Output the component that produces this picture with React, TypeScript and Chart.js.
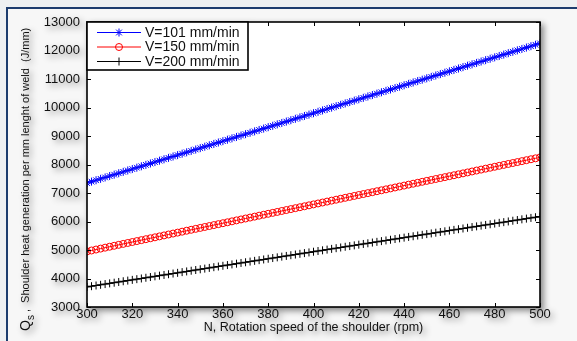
import React, { useEffect, useRef } from "react";
import { Chart, registerables } from "chart.js";

Chart.register(...registerables);

const rpm = [
  300, 302, 304, 306, 308, 310, 312, 314, 316, 318,
  320, 322, 324, 326, 328, 330, 332, 334, 336, 338,
  340, 342, 344, 346, 348, 350, 352, 354, 356, 358,
  360, 362, 364, 366, 368, 370, 372, 374, 376, 378,
  380, 382, 384, 386, 388, 390, 392, 394, 396, 398,
  400, 402, 404, 406, 408, 410, 412, 414, 416, 418,
  420, 422, 424, 426, 428, 430, 432, 434, 436, 438,
  440, 442, 444, 446, 448, 450, 452, 454, 456, 458,
  460, 462, 464, 466, 468, 470, 472, 474, 476, 478,
  480, 482, 484, 486, 488, 490, 492, 494, 496, 498,
  500,
];

const qV101 = [
  7350, 7399, 7448, 7497, 7546, 7595, 7644, 7693, 7742, 7791,
  7840, 7889, 7938, 7987, 8036, 8085, 8134, 8183, 8232, 8281,
  8330, 8379, 8428, 8477, 8526, 8575, 8624, 8673, 8722, 8771,
  8820, 8869, 8918, 8967, 9016, 9065, 9114, 9163, 9212, 9261,
  9310, 9359, 9408, 9457, 9506, 9555, 9604, 9653, 9702, 9751,
  9800, 9849, 9898, 9947, 9996, 10045, 10094, 10143, 10192, 10241,
  10290, 10339, 10388, 10437, 10486, 10535, 10584, 10633, 10682, 10731,
  10780, 10829, 10878, 10927, 10976, 11025, 11074, 11123, 11172, 11221,
  11270, 11319, 11368, 11417, 11466, 11515, 11564, 11613, 11662, 11711,
  11760, 11809, 11858, 11907, 11956, 12005, 12054, 12103, 12152, 12201,
  12250,
];

const qV150 = [
  4950, 4983, 5016, 5049, 5082, 5115, 5148, 5181, 5214, 5247,
  5280, 5313, 5346, 5379, 5412, 5445, 5478, 5511, 5544, 5577,
  5610, 5643, 5676, 5709, 5742, 5775, 5808, 5841, 5874, 5907,
  5940, 5973, 6006, 6039, 6072, 6105, 6138, 6171, 6204, 6237,
  6270, 6303, 6336, 6369, 6402, 6435, 6468, 6501, 6534, 6567,
  6600, 6633, 6666, 6699, 6732, 6765, 6798, 6831, 6864, 6897,
  6930, 6963, 6996, 7029, 7062, 7095, 7128, 7161, 7194, 7227,
  7260, 7293, 7326, 7359, 7392, 7425, 7458, 7491, 7524, 7557,
  7590, 7623, 7656, 7689, 7722, 7755, 7788, 7821, 7854, 7887,
  7920, 7953, 7986, 8019, 8052, 8085, 8118, 8151, 8184, 8217,
  8250,
];

const qV200 = [
  3705, 3730, 3754, 3779, 3804, 3829, 3853, 3878, 3903, 3927,
  3952, 3977, 4001, 4026, 4051, 4076, 4100, 4125, 4150, 4174,
  4199, 4224, 4248, 4273, 4298, 4323, 4347, 4372, 4397, 4421,
  4446, 4471, 4495, 4520, 4545, 4570, 4594, 4619, 4644, 4668,
  4693, 4718, 4742, 4767, 4792, 4817, 4841, 4866, 4891, 4915,
  4940, 4965, 4989, 5014, 5039, 5064, 5088, 5113, 5138, 5162,
  5187, 5212, 5236, 5261, 5286, 5311, 5335, 5360, 5385, 5409,
  5434, 5459, 5483, 5508, 5533, 5558, 5582, 5607, 5632, 5656,
  5681, 5706, 5730, 5755, 5780, 5805, 5829, 5854, 5879, 5903,
  5928, 5953, 5977, 6002, 6027, 6052, 6076, 6101, 6126, 6150,
  6175,
];

const seriesLabels = ["V=101 mm/min", "V=150 mm/min", "V=200 mm/min"];
const xTitle = "N, Rotation speed of the shoulder (rpm)";
const yTitle = "Shoulder heat generation per mm lenght of weld  (J/mm)";

const FONT = "'Liberation Sans', Arial, Helvetica, sans-serif";

function drawMarker(ctx: CanvasRenderingContext2D, style: string, x: number, y: number, r: number, color: string) {
  ctx.save();
  ctx.strokeStyle = color;
  ctx.lineWidth = 1;
  ctx.beginPath();
  if (style === "circle") {
    ctx.arc(x, y, r, 0, Math.PI * 2);
  } else if (style === "cross") {
    ctx.moveTo(x - r, y); ctx.lineTo(x + r, y);
    ctx.moveTo(x, y - r); ctx.lineTo(x, y + r);
  } else {
    ctx.moveTo(x - r, y); ctx.lineTo(x + r, y);
    ctx.moveTo(x, y - r); ctx.lineTo(x, y + r);
    const d = r * 0.72;
    ctx.moveTo(x - d, y - d); ctx.lineTo(x + d, y + d);
    ctx.moveTo(x - d, y + d); ctx.lineTo(x + d, y - d);
  }
  ctx.stroke();
  ctx.restore();
}

const framePlugin = {
  id: "matlabFrame",
  beforeDatasetsDraw(chart: any) {
    const { ctx, chartArea: a } = chart;
    ctx.save();
    ctx.fillStyle = "#ffffff";
    ctx.fillRect(a.left, a.top, a.right - a.left, a.bottom - a.top);
    ctx.restore();
  },
  afterDatasetsDraw(chart: any) {
    const { ctx, chartArea: a } = chart;
    const xs = chart.scales.x;
    const ys = chart.scales.y;
    ctx.save();
    // inward ticks
    ctx.strokeStyle = "#000";
    ctx.lineWidth = 1;
    ctx.beginPath();
    xs.ticks.forEach((t: any) => {
      const px = Math.round(xs.getPixelForValue(t.value)) + 0.5;
      ctx.moveTo(px, a.bottom); ctx.lineTo(px, a.bottom - 4);
      ctx.moveTo(px, a.top); ctx.lineTo(px, a.top + 4);
    });
    ys.ticks.forEach((t: any) => {
      const py = Math.round(ys.getPixelForValue(t.value)) + 0.5;
      ctx.moveTo(a.left, py); ctx.lineTo(a.left + 4, py);
      ctx.moveTo(a.right, py); ctx.lineTo(a.right - 4, py);
    });
    ctx.stroke();
    // box
    ctx.lineWidth = 1.6;
    ctx.strokeRect(a.left, a.top, a.right - a.left, a.bottom - a.top);

    // legend
    const lx = a.left, ly = a.top, lw = 161, lh = 48;
    ctx.fillStyle = "#fff";
    ctx.fillRect(lx, ly, lw, lh);
    ctx.lineWidth = 1.6;
    ctx.strokeStyle = "#000";
    ctx.strokeRect(lx, ly, lw, lh);
    const dsets = chart.data.datasets;
    ctx.font = `14px ${FONT}`;
    ctx.textBaseline = "middle";
    ctx.textAlign = "left";
    dsets.forEach((d: any, i: number) => {
      const ry = ly + 10.5 + i * 14.5;
      ctx.strokeStyle = d.borderColor;
      ctx.lineWidth = 1;
      ctx.beginPath();
      ctx.moveTo(lx + 10, ry); ctx.lineTo(lx + 54, ry);
      ctx.stroke();
      drawMarker(ctx, d.pointStyle, lx + 32, ry, d.pointRadius, d.borderColor);
      ctx.fillStyle = "#111";
      ctx.fillText(d.label, lx + 58, ry + 0.5);
    });

    // y title with subscript
    ctx.save();
    ctx.translate(26, a.bottom + 24);
    ctx.rotate(-Math.PI / 2);
    ctx.fillStyle = "#111";
    ctx.textBaseline = "middle";
    ctx.textAlign = "left";
    ctx.font = `14px ${FONT}`;
    ctx.fillText("Q", 0, 0);
    let off = ctx.measureText("Q").width;
    ctx.font = `10px ${FONT}`;
    ctx.fillText("s", off, 5);
    off += ctx.measureText("s").width;
    ctx.font = `11px ${FONT}`;
    ctx.fillText(" ,  " + yTitle, off, 0);
    ctx.restore();

    // x title
    ctx.fillStyle = "#111";
    ctx.font = `12.5px ${FONT}`;
    ctx.textAlign = "center";
    ctx.textBaseline = "middle";
    ctx.fillText(xTitle, (a.left + a.right) / 2, 328);
    ctx.restore();
  },
};

export default function App() {
  const ref = useRef<HTMLCanvasElement | null>(null);

  useEffect(() => {
    if (!ref.current) return;
    const mk = (vals: number[]) => rpm.map((n, i) => ({ x: n, y: vals[i] }));
    const chart = new Chart(ref.current, {
      type: "line",
      data: {
        datasets: [
          { label: seriesLabels[0], data: mk(qV101), borderColor: "#0000ff", backgroundColor: "#0000ff", borderWidth: 1, pointStyle: "star", pointRadius: 4, pointBorderWidth: 1, pointBackgroundColor: "transparent", pointBorderColor: "#0000ff", fill: false, tension: 0 } as any,
          { label: seriesLabels[1], data: mk(qV150), borderColor: "#ff0000", backgroundColor: "#ff0000", borderWidth: 1, pointStyle: "circle", pointRadius: 3.5, pointBorderWidth: 1, pointBackgroundColor: "transparent", pointBorderColor: "#ff0000", fill: false, tension: 0 } as any,
          { label: seriesLabels[2], data: mk(qV200), borderColor: "#000000", backgroundColor: "#000000", borderWidth: 1, pointStyle: "cross", pointRadius: 4, pointBorderWidth: 1, pointBackgroundColor: "transparent", pointBorderColor: "#000000", fill: false, tension: 0 } as any,
        ],
      },
      options: {
        responsive: true,
        maintainAspectRatio: false,
        animation: false,
        layout: { padding: { left: 0, right: 37, top: 22, bottom: 0 } },
        plugins: { legend: { display: false }, tooltip: { enabled: false } },
        scales: {
          x: {
            type: "linear",
            min: 300,
            max: 500,
            grid: { display: false, drawTicks: false },
            border: { display: false },
            ticks: { stepSize: 20, padding: 0, color: "#111", font: { family: FONT, size: 13 }, maxRotation: 0, callback: (v: any) => String(v) },
            afterFit: (s: any) => { s.height = 34; },
          },
          y: {
            type: "linear",
            min: 3000,
            max: 13000,
            grid: { display: false, drawTicks: false },
            border: { display: false },
            ticks: { stepSize: 1000, padding: 7, color: "#111", font: { family: FONT, size: 13 }, callback: (v: any) => String(v) },
            afterFit: (s: any) => { s.width = 87; },
          },
        },
      } as any,
      plugins: [framePlugin],
    });
    return () => chart.destroy();
  }, []);

  return (
    <div
      style={{
        position: "fixed",
        left: 0,
        top: 0,
        width: 577,
        height: 341,
        background: "#eef0f2",
        overflow: "hidden",
      }}
    >
      <div
        style={{
          position: "absolute",
          left: 6,
          top: 7,
          right: 0,
          bottom: 0,
          borderTop: "2px solid #1d3c6e",
          borderLeft: "2px solid #1d3c6e",
          background: "#f7f7f7",
        }}
      />
      <div style={{ position: "absolute", left: 0, top: 0, width: 577, height: 341, filter: "drop-shadow(3px 3px 3px rgba(0,0,0,0.45))" }}>
        <canvas ref={ref} width={577} height={341} />
      </div>
    </div>
  );
}
